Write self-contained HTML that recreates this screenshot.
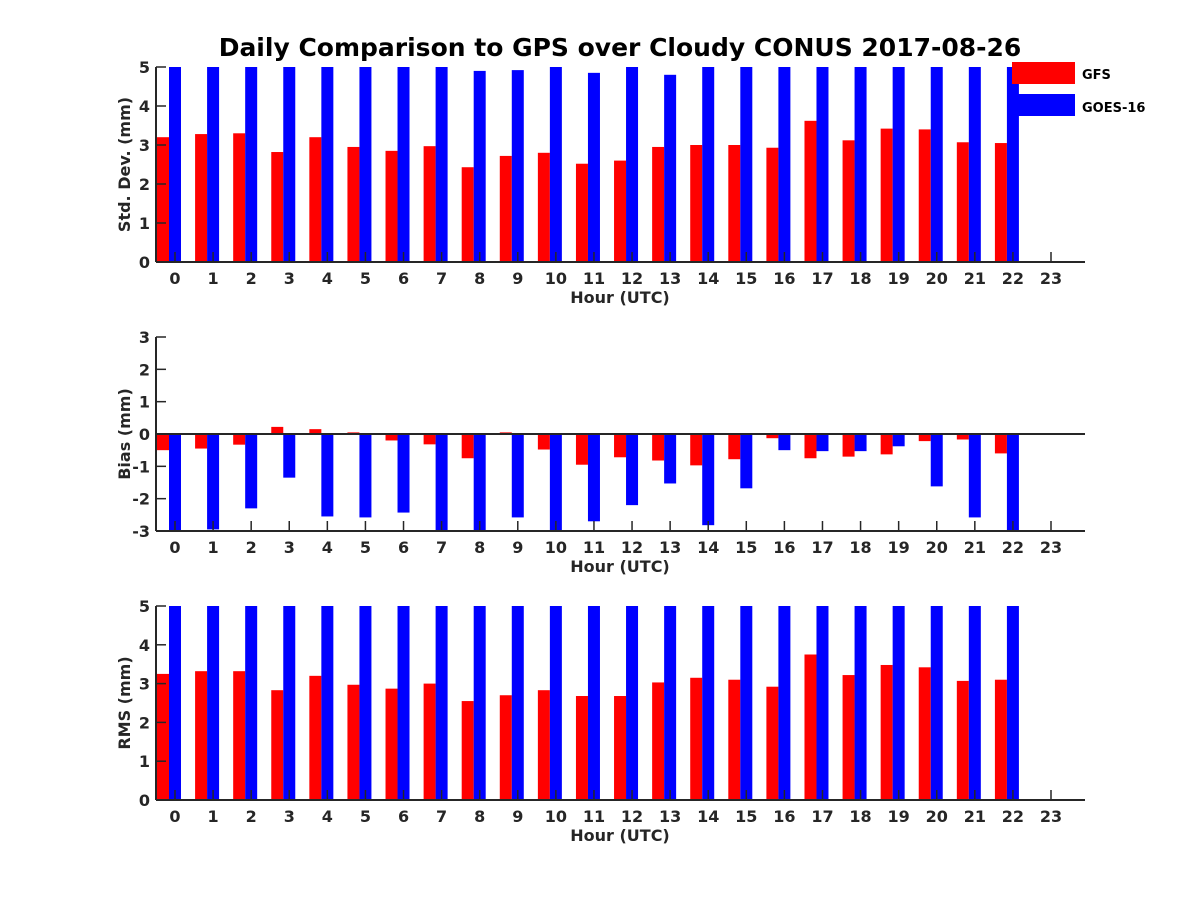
<!DOCTYPE html>
<html><head><meta charset="utf-8"><style>
body{margin:0;background:#fff}
svg text{font-family:"DejaVu Sans","Liberation Sans",sans-serif;font-weight:bold;fill:#262626}
</style></head><body>
<svg id="chart" width="1200" height="900" xmlns="http://www.w3.org/2000/svg">
<text x="620" y="56" font-size="25" text-anchor="middle" style="fill:#000">Daily Comparison to GPS over Cloudy CONUS 2017-08-26</text>
<g id="plots"></g>
<g>
<rect x="1012" y="62" width="63" height="22" fill="#ff0000"/>
<text x="1082" y="79" font-size="13" style="fill:#000">GFS</text>
<rect x="1012" y="94" width="63" height="22" fill="#0000ff"/>
<text x="1082" y="112" font-size="13" style="fill:#000">GOES-16</text>
</g>
</svg>
<script>
const hours = [0,1,2,3,4,5,6,7,8,9,10,11,12,13,14,15,16,17,18,19,20,21,22,23];
const stdGFS = [3.2,3.28,3.3,2.82,3.2,2.95,2.85,2.97,2.43,2.72,2.8,2.52,2.6,2.95,3.0,3.0,2.93,3.62,3.12,3.42,3.4,3.07,3.05];
const stdGOES = [6,6,6,6,6,6,6,6,4.9,4.92,6,4.85,6,4.8,6,6,6,6,6,6,6,6,6];
const biasGFS = [-0.5,-0.45,-0.33,0.22,0.15,0.05,-0.2,-0.32,-0.75,0.05,-0.48,-0.95,-0.72,-0.82,-0.97,-0.78,-0.13,-0.75,-0.7,-0.63,-0.22,-0.17,-0.6];
const biasGOES = [-3.5,-2.95,-2.3,-1.35,-2.55,-2.58,-2.43,-3.5,-3.5,-2.58,-3.5,-2.7,-2.2,-1.53,-2.82,-1.68,-0.5,-0.53,-0.53,-0.38,-1.62,-2.58,-3.5];
const rmsGFS = [3.25,3.32,3.32,2.83,3.2,2.97,2.87,3.0,2.55,2.7,2.83,2.68,2.68,3.03,3.15,3.1,2.92,3.75,3.22,3.48,3.42,3.07,3.1];
const rmsGOES = [6,6,6,6,6,6,6,6,6,6,6,6,6,6,6,6,6,6,6,6,6,6,6];
const stdTicks = [0,1,2,3,4,5];
const biasTicks = [-3,-2,-1,0,1,2,3];
const rmsTicks = [0,1,2,3,4,5];

const NS = "http://www.w3.org/2000/svg";
const root = document.getElementById('plots');
function mk(tag, attrs, parent){const e=document.createElementNS(NS,tag);for(const k in attrs)e.setAttribute(k,attrs[k]);parent.appendChild(e);return e;}
const X0 = 156, X1 = 1085;
function xs(h){return 175 + h*(876/23);}

function panel(key, top, bot, ymin, ymax, ticks, gfs, goes, ylabel, zeroLine){
  const g = mk('g',{},root);
  
  
  const ys = v => bot - (Math.max(ymin, Math.min(ymax, v)) - ymin)/(ymax-ymin)*(bot-top);
  const base = zeroLine ? ys(0) : ys(ymin);
  gfs.forEach((v,i)=>{
    const y = ys(v);
    const r = mk('rect',{x:xs(hours[i])-18,y:Math.min(y,base),width:12,height:Math.abs(base-y),fill:'#ff0000'},g);
    
    
  });
  goes.forEach((v,i)=>{
    const y = ys(v);
    const r = mk('rect',{x:xs(hours[i])-6,y:Math.min(y,base),width:12,height:Math.abs(base-y),fill:'#0000ff'},g);
    
    
  });
  if(zeroLine){
    const z = mk('line',{x1:X0,x2:X1,y1:ys(0),y2:ys(0),stroke:'#262626','stroke-width':2},g);
    
    
  }
  const xa = mk('line',{x1:X0,x2:X1,y1:bot,y2:bot,stroke:'#262626','stroke-width':2},g);
  
  
  const ya = mk('line',{x1:X0,x2:X0,y1:top,y2:bot,stroke:'#262626','stroke-width':2},g);
  
  
  hours.forEach(h=>{
    mk('line',{x1:xs(h),x2:xs(h),y1:bot,y2:bot-10,stroke:'#262626','stroke-width':1.5},g);
    const t = mk('text',{x:xs(h),y:bot+22,'font-size':16,'text-anchor':'middle'},g);
    t.textContent = h;
    
    
  });
  ticks.forEach(v=>{
    mk('line',{x1:X0,x2:X0+10,y1:ys(v),y2:ys(v),stroke:'#262626','stroke-width':1.5},g);
    const t = mk('text',{x:X0-6,y:ys(v)+6,'font-size':16,'text-anchor':'end'},g);
    t.textContent = v;
    
    
  });
  const xl = mk('text',{x:620,y:bot+41,'font-size':16,'text-anchor':'middle'},g);
  xl.textContent = 'Hour (UTC)';
  
  
  const cy = (top+bot)/2;
  const yl = mk('text',{x:130,y:cy,'font-size':16,'text-anchor':'middle',transform:'rotate(-90 130 '+cy+')'},g);
  yl.textContent = ylabel;
  
  
}
panel('std', 67, 262, 0, 5, stdTicks, stdGFS, stdGOES, 'Std. Dev. (mm)', false);
panel('bias', 337, 531, -3, 3, biasTicks, biasGFS, biasGOES, 'Bias (mm)', true);
panel('rms', 606, 800, 0, 5, rmsTicks, rmsGFS, rmsGOES, 'RMS (mm)', false);
</script>
</body></html>
